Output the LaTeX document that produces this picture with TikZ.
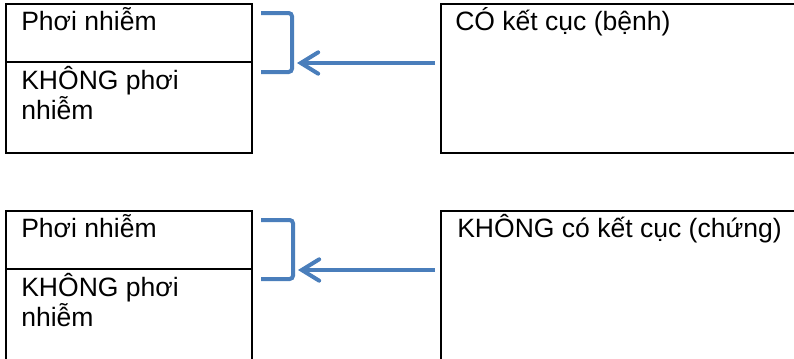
\documentclass[tikz,border=0pt]{standalone}
\usepackage{fontspec}
\setmainfont{Liberation Sans}
\usetikzlibrary{arrows.meta,positioning,calc}
\definecolor{braceblue}{RGB}{74,126,187}
\tikzset{
  box/.style={draw,line width=1.6pt,inner sep=0pt,outer sep=0pt,anchor=north west},
  lbl/.style={inner sep=0pt,anchor=base west,align=left},
  brace/.style={draw=braceblue,line width=3pt,rounded corners=2.5pt},
  back/.style={draw=braceblue,line width=3pt,shorten <=4.5pt,
    -{Straight Barb[length=13pt,width=16pt,line cap=round]}}
}
\begin{document}
\begin{tikzpicture}[x=0.75pt,y=-0.75pt]
                \path[use as bounding box] (0,0) rectangle (794,358);
                \clip (0,0) rectangle (794,358);
                {\fontsize{19.9}{22.5}\selectfont

                % Drawing upper exposure boxes
                \node[box,minimum width=184.5pt,minimum height=43.5pt] (expoA) at (6,4) {};%
                \node[box,minimum width=184.5pt,minimum height=68.25pt,below=0pt of expoA] (noexpoA) {};%
                \node[lbl] (expoAtxt) at ($(expoA.north west)+(15,26.5)$) {Phơi nhiễm};%
                \node[lbl] (noexpoAtxt) at ($(noexpoA.north west)+(15,57)$) {KHÔNG phơi\\nhiễm};%

                % Drawing upper outcome box
                \node[box,minimum width=291.75pt,minimum height=111.75pt] (cases) at (441,4) {};%
                \node[lbl] (casestxt) at ($(cases.north west)+(14,26.5)$) {CÓ kết cục (bệnh)};%

                % Drawing upper bracket and arrow
                \draw[brace] (261,13) -| (292,72) -- (261,72);%
                \coordinate (tipA) at (297,63);%
                \draw[back] (cases.west |- tipA) -- (tipA);%

                % Drawing lower exposure boxes
                \node[box,minimum width=184.5pt,minimum height=43.5pt] (expoB) at (6,211) {};%
                \node[box,minimum width=184.5pt,minimum height=98.25pt,below=0pt of expoB] (noexpoB) {};%
                \node[lbl] (expoBtxt) at ($(expoB.north west)+(15,26.5)$) {Phơi nhiễm};%
                \node[lbl] (noexpoBtxt) at ($(noexpoB.north west)+(15,57)$) {KHÔNG phơi\\nhiễm};%

                % Drawing lower outcome box
                \node[box,minimum width=291.75pt,minimum height=141.75pt] (controls) at (441,211) {};%
                \node[lbl] (controlstxt) at ($(controls.north west)+(16,26.5)$) {KHÔNG có kết cục (chứng)};%

                % Drawing lower bracket and arrow
                \draw[brace] (261,220) -| (293,279) -- (261,279);%
                \coordinate (tipB) at (298,270);%
                \draw[back] (controls.west |- tipB) -- (tipB);%
                }
\end{tikzpicture}
\end{document}
